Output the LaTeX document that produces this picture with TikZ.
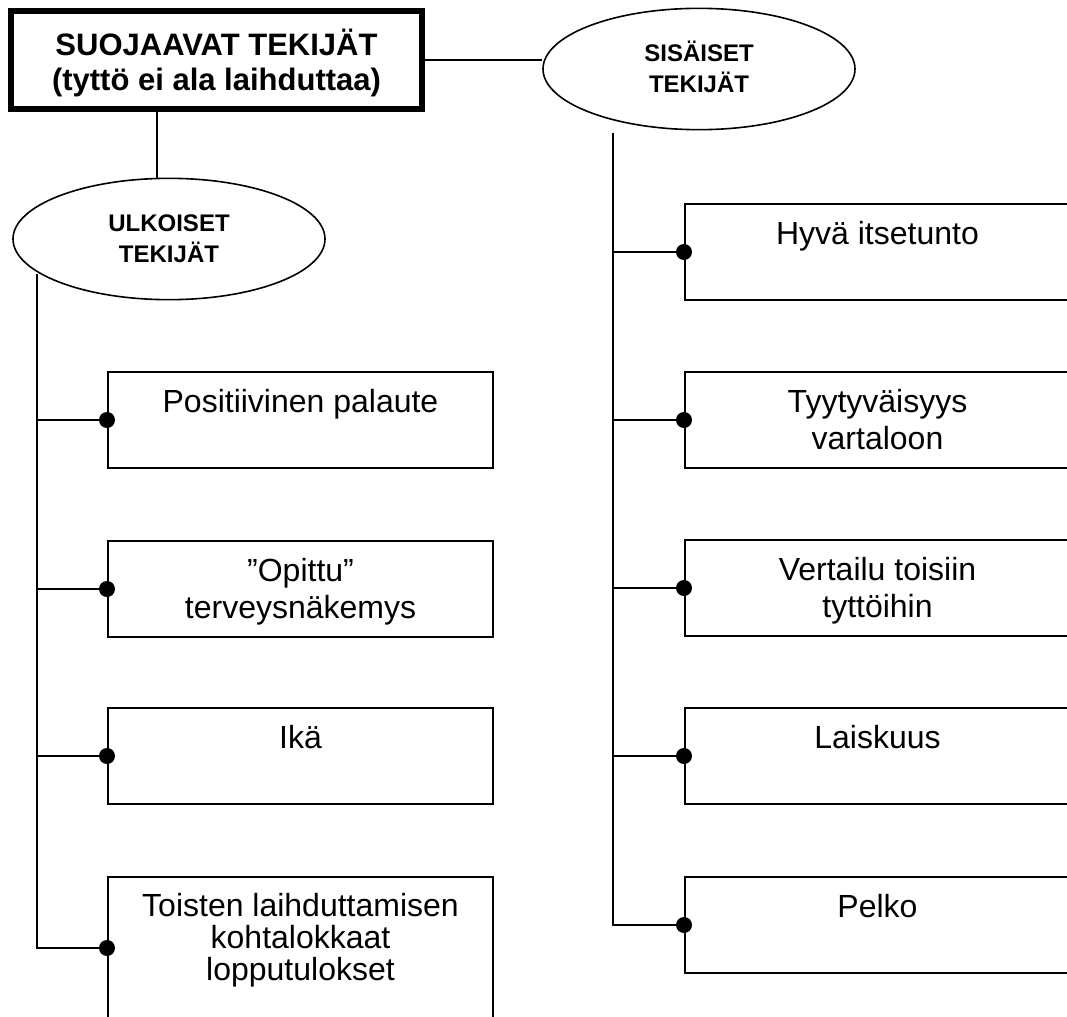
\documentclass[tikz,border=0pt]{standalone}
\usepackage{fontspec}
\setmainfont{Liberation Sans}
\usetikzlibrary{shapes.geometric,calc}
\begin{document}
\begin{tikzpicture}[x=0.75pt,y=-0.75pt,
  conn/.style={line width=1.2pt},
  item/.style={draw, line width=1.5pt, rectangle, inner sep=0pt,
    minimum width=288.75pt, minimum height=72pt, align=center,
    text height=30pt, text depth=42pt,
    font=\fontsize{24pt}{27.75pt}\selectfont},
  twolines/.style={text height=57.75pt, text depth=14.25pt},
  oval/.style={draw, ellipse, line width=1.2pt, inner sep=0pt,
    minimum width=234pt, minimum height=91pt, align=center,
    text height=37.5pt, text depth=2.25pt,
    font=\fontsize{18pt}{23.25pt}\selectfont\bfseries},
  mainbox/.style={draw, line width=4.5pt, rectangle, inner sep=0pt,
    minimum width=308.25pt, minimum height=73.5pt, align=center,
    text height=59.25pt, text depth=14.25pt,
    font=\fontsize{23.25pt}{26.25pt}\selectfont\bfseries},
  dot/.style={fill=black}
]
\fill[white] (0,0) rectangle (1067,1017);
\useasboundingbox (0,0) rectangle (1067,1017);

% top level
\node[mainbox] (main) at (216.5,60) {SUOJAAVAT TEKIJÄT\\(tyttö ei ala laihduttaa)};
\node[oval] (sis) at (699,69) {SISÄISET\\TEKIJÄT};
\node[oval] (ulk) at (169,239) {ULKOISET\\TEKIJÄT};

% left column
\node[item] (pos) at (300.5,420) {Positiivinen palaute};
\node[item, twolines] (opi) at (300.5,589) {”Opittu”\\terveysnäkemys};
\node[item] (ika) at (300.5,756) {Ikä};
\node[item, text height=77.25pt, text depth=29.25pt,
      font=\fontsize{24pt}{24pt}\selectfont] (toi) at (300.5,948)
  {Toisten laihduttamisen\\kohtalokkaat\\lopputulokset};

% right column
\node[item] (hyv) at (877.5,252) {Hyvä itsetunto};
\node[item, twolines] (tyy) at (877.5,420) {Tyytyväisyys\\vartaloon};
\node[item, twolines] (ver) at (877.5,588) {Vertailu toisiin\\tyttöihin};
\node[item] (lai) at (877.5,756) {Laiskuus};
\node[item] (pel) at (877.5,925) {Pelko};

% connectors from the main box
\draw[conn] (main.east) -- (main.east -| sis.west);
\draw[conn] ($(main.south)+(-59.5,0)$) -- ($(ulk.north)+(-12,0)$);

% spines
\coordinate (sL) at ($(ulk.center)+(-132,35)$);
\coordinate (sR) at ($(sis.south)+(-86,3)$);
\draw[conn] (sL) |- (toi.west);
\draw[conn] (sR) |- (pel.west);
\foreach \b in {pos,opi,ika} {
  \draw[conn] (sL |- \b.west) -- (\b.west);
}
\foreach \b in {hyv,tyy,ver,lai} {
  \draw[conn] (sR |- \b.west) -- (\b.west);
}

% dots
\foreach \b in {pos,opi,ika,toi,hyv,tyy,ver,lai,pel} {
  \fill[dot] (\b.west) circle (8);
}
\end{tikzpicture}
\end{document}
